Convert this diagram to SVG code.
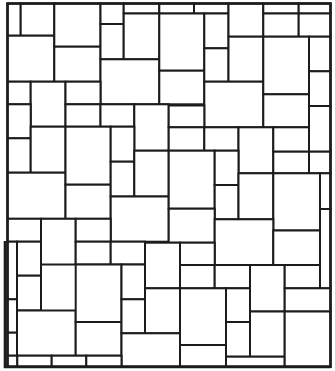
<svg xmlns="http://www.w3.org/2000/svg" width="335" height="371" viewBox="0 0 335 371">
<style>
.t{fill:#fff;stroke:#1c1c1c;stroke-width:2}
.f{fill:none;stroke:#1c1c1c;stroke-width:2.6}
</style>
<rect width="335" height="371" fill="#fff"/>
<g id="tiles">
<rect class="t" x="7.5" y="3.5" width="13.2" height="32.2"/>
<rect class="t" x="20.7" y="3.5" width="33.6" height="32.2"/>
<rect class="t" x="7.5" y="35.7" width="46.8" height="46"/>
<rect class="t" x="54.3" y="3.5" width="46.2" height="43.2"/>
<rect class="t" x="54.3" y="46.7" width="46.2" height="35"/>
<rect class="t" x="100.5" y="3.5" width="23.2" height="20.5"/>
<rect class="t" x="100.5" y="24" width="23.2" height="35.3"/>
<rect class="t" x="123.7" y="3.5" width="35.6" height="10"/>
<rect class="t" x="159.3" y="3.5" width="34.7" height="10"/>
<rect class="t" x="194" y="3.5" width="34.5" height="10"/>
<rect class="t" x="123.7" y="13.5" width="35.6" height="45.8"/>
<rect class="t" x="100.5" y="59.3" width="58.8" height="45"/>
<rect class="t" x="159.3" y="13.5" width="45" height="57.2"/>
<rect class="t" x="159.3" y="70.7" width="45" height="33.6"/>
<rect class="t" x="204.3" y="13.5" width="24.2" height="34.8"/>
<rect class="t" x="204.3" y="48.3" width="24.2" height="33.4"/>
<rect class="t" x="228.5" y="3.5" width="34.8" height="33.2"/>
<rect class="t" x="228.5" y="36.7" width="34.8" height="45"/>
<rect class="t" x="204.3" y="81.7" width="59" height="45.6"/>
<rect class="t" x="263.3" y="3.5" width="35.4" height="10"/>
<rect class="t" x="298.7" y="3.5" width="31.8" height="10"/>
<rect class="t" x="263.3" y="13.5" width="35.4" height="23.2"/>
<rect class="t" x="298.7" y="13.5" width="31.8" height="23.2"/>
<rect class="t" x="263.3" y="36.7" width="45.7" height="57.6"/>
<rect class="t" x="263.3" y="94.3" width="45.7" height="33"/>
<rect class="t" x="309" y="36.7" width="21.5" height="34.6"/>
<rect class="t" x="309" y="71.3" width="21.5" height="34.7"/>
<rect class="t" x="309" y="106" width="21.5" height="45.7"/>
<rect class="t" x="7.5" y="81.7" width="23.2" height="22.6"/>
<rect class="t" x="30.7" y="81.7" width="34.8" height="45"/>
<rect class="t" x="65.5" y="81.7" width="35" height="22.6"/>
<rect class="t" x="7.5" y="104.3" width="23.2" height="34"/>
<rect class="t" x="65.5" y="104.3" width="35" height="22.4"/>
<rect class="t" x="100.5" y="104.3" width="33.8" height="22.4"/>
<rect class="t" x="134.3" y="104.3" width="34.4" height="46.4"/>
<rect class="t" x="168.7" y="105.5" width="35.6" height="21.8"/>
<rect class="t" x="7.5" y="138.3" width="23.2" height="34.4"/>
<rect class="t" x="30.7" y="126.7" width="34.8" height="46"/>
<rect class="t" x="7.5" y="172.7" width="58" height="46.1"/>
<rect class="t" x="65.5" y="126.7" width="45.2" height="58"/>
<rect class="t" x="65.5" y="184.7" width="45.2" height="34.1"/>
<rect class="t" x="110.7" y="126.7" width="23.6" height="35"/>
<rect class="t" x="110.7" y="161.7" width="23.6" height="34.8"/>
<rect class="t" x="134.3" y="150.7" width="34.4" height="45.8"/>
<rect class="t" x="110.7" y="196.5" width="58" height="45.2"/>
<rect class="t" x="7.5" y="218.8" width="33.5" height="22.9"/>
<rect class="t" x="41" y="218.8" width="34.7" height="45.7"/>
<rect class="t" x="75.7" y="218.8" width="35" height="22.9"/>
<rect class="t" x="168.7" y="127.3" width="35.6" height="23.4"/>
<rect class="t" x="204.3" y="127.3" width="34.2" height="23.4"/>
<rect class="t" x="238.5" y="127.3" width="34.8" height="46"/>
<rect class="t" x="273.3" y="127.3" width="35.7" height="24.4"/>
<rect class="t" x="273.3" y="151.7" width="35.7" height="21.6"/>
<rect class="t" x="309" y="151.7" width="21.5" height="21.6"/>
<rect class="t" x="168.7" y="150.7" width="46" height="58"/>
<rect class="t" x="214.7" y="150.7" width="23.8" height="34.3"/>
<rect class="t" x="214.7" y="185" width="23.8" height="34.3"/>
<rect class="t" x="238.5" y="173.3" width="34.8" height="46"/>
<rect class="t" x="273.3" y="173.3" width="46.7" height="57.2"/>
<rect class="t" x="320" y="173.3" width="10.5" height="35.7"/>
<rect class="t" x="168.7" y="208.7" width="46" height="34"/>
<rect class="t" x="214.7" y="219.3" width="58.6" height="45.7"/>
<rect class="t" x="273.3" y="230.5" width="46.7" height="34.5"/>
<rect class="t" x="320" y="209" width="10.5" height="79.3"/>
<rect class="t" x="7.5" y="241.7" width="9.5" height="57.6"/>
<rect class="t" x="7.5" y="299.3" width="9.5" height="33.4"/>
<rect class="t" x="7.5" y="332.7" width="9.5" height="23"/>
<rect class="t" x="17" y="241.7" width="24" height="34"/>
<rect class="t" x="17" y="275.7" width="24" height="34.8"/>
<rect class="t" x="17" y="310.5" width="58.7" height="45.2"/>
<rect class="t" x="75.7" y="241.7" width="35" height="22.8"/>
<rect class="t" x="110.7" y="241.7" width="34.3" height="22.8"/>
<rect class="t" x="75.7" y="264.5" width="45.8" height="57.5"/>
<rect class="t" x="75.7" y="322" width="45.8" height="33.7"/>
<rect class="t" x="121.5" y="264.5" width="23.5" height="34.8"/>
<rect class="t" x="121.5" y="299.3" width="23.5" height="34"/>
<rect class="t" x="145" y="242.7" width="35" height="45.6"/>
<rect class="t" x="145" y="288.3" width="35" height="45"/>
<rect class="t" x="121.5" y="333.3" width="58.5" height="33.4"/>
<rect class="t" x="180" y="242.7" width="34.7" height="22.3"/>
<rect class="t" x="180" y="265" width="34.7" height="23.3"/>
<rect class="t" x="214.7" y="265" width="35.3" height="23.3"/>
<rect class="t" x="250" y="265" width="34.7" height="46.5"/>
<rect class="t" x="284.7" y="265" width="35.3" height="23.3"/>
<rect class="t" x="284.7" y="288.3" width="45.8" height="23.2"/>
<rect class="t" x="180" y="288.3" width="46" height="56.7"/>
<rect class="t" x="180" y="345" width="46" height="21.7"/>
<rect class="t" x="226" y="288.3" width="24" height="33.7"/>
<rect class="t" x="226" y="322" width="24" height="34.7"/>
<rect class="t" x="250" y="311.5" width="34.7" height="45.2"/>
<rect class="t" x="226" y="356.7" width="58.7" height="10"/>
<rect class="t" x="284.7" y="311.5" width="45.8" height="55.2"/>
<rect class="t" x="7.5" y="355.7" width="9.8" height="11"/>
<rect class="t" x="17.3" y="355.7" width="34.4" height="11"/>
<rect class="t" x="51.7" y="355.7" width="34.6" height="11"/>
<rect class="t" x="86.3" y="355.7" width="35.2" height="11"/>
</g>
<g id="frame">
<rect class="f" x="7.5" y="3.5" width="323" height="363.2"/>
<path class="f" d="M5 241 V367 H330.5"/>
</g>
</svg>
